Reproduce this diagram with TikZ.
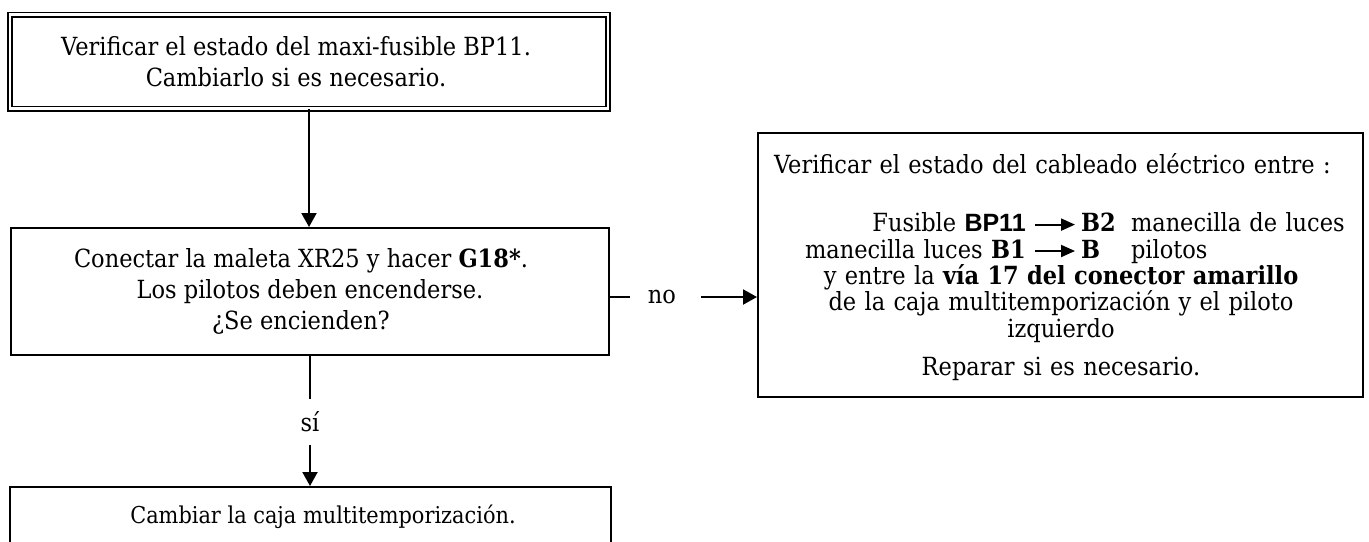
\documentclass[tikz,border=0pt]{standalone}
\usepackage{fontspec}
\setmainfont{DejaVu Serif}[FakeStretch=0.9]
\setsansfont{Liberation Sans}
\usetikzlibrary{arrows.meta,calc,positioning}
\newcommand{\boxfont}{\fontsize{12.5pt}{15.5pt}\selectfont}
\newcommand{\cablefont}{\fontsize{12.5pt}{13.2pt}\selectfont}
\newcommand{\flecha}{\tikz[baseline=-0.28em]\draw[line width=1pt,-{Triangle[length=7pt,width=6pt]}] (0pt,0pt) -- (20pt,0pt);}

\begin{document}
\begin{tikzpicture}[x=0.5pt, y=-0.5pt, line width=1pt,
  box/.style={draw, line width=1pt, align=center, font=\boxfont, inner sep=0pt},
  dbox/.style={box, double, line width=0.9pt, double distance=1.2pt},
  tag/.style={font=\boxfont, inner sep=0pt},
  flow/.style={-{Triangle[length=7pt,width=7.5pt]}}]
\useasboundingbox (0,0) rectangle (1369,541);
\node[dbox, minimum width=299pt, minimum height=47pt] (verif) at (309,61.5)
  {Verificar el estado del maxi-fusible BP11.\hspace*{13pt}\\ Cambiarlo si es necesario.\hspace*{13pt}};
\node[box, minimum width=299pt, minimum height=63.5pt] (conect) at (310,291.5)
  {Conectar la maleta XR25 y hacer \textbf{G18*}.\hspace*{9pt}\\ Los pilotos deben encenderse.\hspace*{9pt}\\ ¿Se encienden?\hspace*{9pt}};
\node[box, anchor=north west, minimum width=302.5pt, minimum height=132pt, text width=286.5pt, align=left, font=\cablefont] (cable) at (757,132)
  {\rule{0pt}{12pt}Verificar el estado del cableado eléctrico entre :\\[15.8pt]
   \makebox[130pt][r]{Fusible \textsf{\bfseries BP11} }\flecha\makebox[27.5pt][l]{\hspace{2.5pt}\textbf{B2}}manecilla de luces\\
   \makebox[130pt][r]{manecilla luces \textbf{B1} }\flecha\makebox[27.5pt][l]{\hspace{2.5pt}\textbf{B}}pilotos\\
   \hspace*{143.5pt}\makebox[0pt]{y entre la \textbf{vía 17 del conector amarillo}}\\
   \hspace*{143.5pt}\makebox[0pt]{de la caja multitemporización y el piloto}\\
   \hspace*{143.5pt}\makebox[0pt]{izquierdo}\\[5.8pt]
   \hspace*{143.5pt}\makebox[0pt]{Reparar si es necesario.}};
\node[tag] (no) at (662,297) {no};
\node[tag, minimum height=22pt, below=21.5pt of conect] (si) {sí};
\node[box, minimum width=300.5pt, minimum height=30pt, font=\fontsize{11.6pt}{14pt}\selectfont, below=20.5pt of si] (cambiar)
  {\hspace*{13pt}Cambiar la caja multitemporización.};
% connectors
\draw[flow] (verif.south) -- (verif.south |- conect.north);
\draw[shorten >=8.5pt] (conect.east |- no.west) -- (no.west);
\draw[flow, shorten <=12pt] (no.east) -- (no.east -| cable.west);
\draw (conect.south) -- (si.north);
\draw[flow] (si.south) -- (cambiar.north);
\end{tikzpicture}
\end{document}
